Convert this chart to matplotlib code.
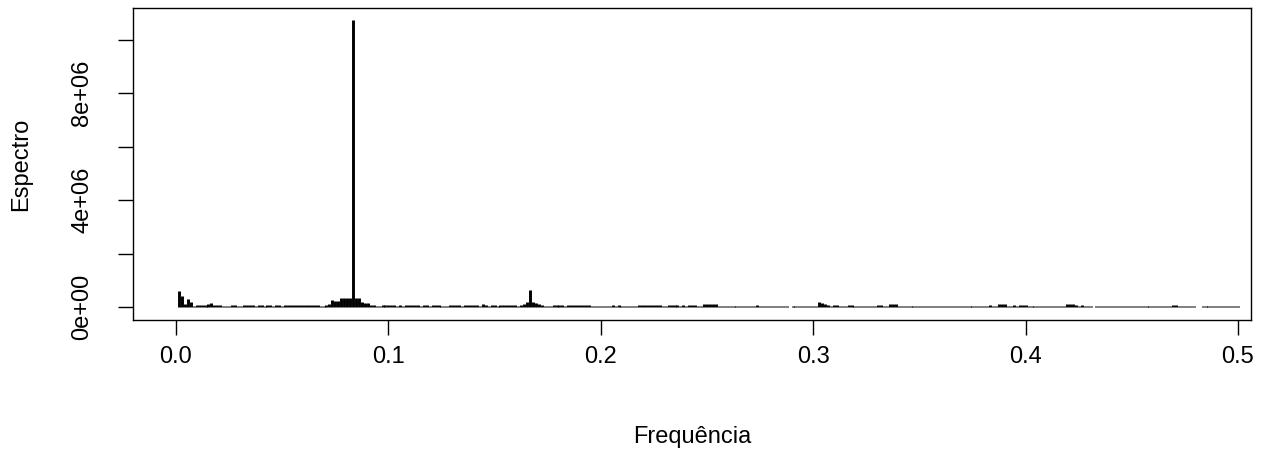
import matplotlib
matplotlib.use("Agg")
import matplotlib.pyplot as plt
import numpy as np

plt.rcParams.update({'font.family': ['Liberation Sans', 'DejaVu Sans'],
                     'font.size': 17})

# periodogram ordinates, frequencies k/720 for k = 1..360 (values in thousands)
n_obs = 720
spec_k = [
    600, 420, 120, 300, 190, 20, 80, 80, 85, 85,
    100, 160, 90, 80, 75, 20, 20, 20, 70, 75,
    20, 20, 80, 85, 80, 75, 20, 70, 60, 20,
    70, 60, 20, 70, 75, 20, 75, 80, 80, 75,
    80, 85, 75, 80, 85, 80, 85, 75, 20, 20,
    70, 120, 250, 230, 240, 320, 330, 330, 340, 10730,
    330, 320, 200, 150, 160, 80, 75, 20, 20, 70,
    80, 85, 80, 75, 20, 70, 20, 80, 90, 90,
    85, 80, 20, 70, 75, 20, 70, 80, 80, 20,
    20, 20, 80, 85, 85, 80, 20, 85, 90, 90,
    85, 80, 20, 100, 90, 20, 80, 75, 20, 70,
    80, 85, 90, 90, 80, 20, 90, 130, 170, 640,
    180, 160, 120, 90, 20, 20, 20, 70, 75, 80,
    75, 20, 70, 75, 70, 80, 85, 85, 80, 75,
    20, 20, 20, 20, 20, 20, 20, 80, 20, 70,
    20, 20, 20, 20, 20, 20, 70, 75, 85, 90,
    90, 80, 70, 75, 20, 20, 70, 75, 80, 75,
    20, 70, 20, 75, 80, 75, 20, 20, 110, 120,
    120, 115, 110, 20, 20, 20, 20, 20, 20, 20,
    20, 20, 20, 20, 20, 20, 90, 20, 20, 20,
    20, 20, 20, 20, 20, 20, 20, 0, 20, 20,
    20, 20, 20, 20, 20, 20, 20, 170, 160, 120,
    90, 20, 80, 75, 20, 20, 20, 80, 75, 20,
    20, 20, 20, 20, 20, 20, 20, 75, 70, 20,
    20, 110, 120, 100, 20, 20, 20, 20, 20, 20,
    20, 20, 20, 20, 20, 20, 20, 20, 20, 20,
    20, 20, 20, 20, 20, 20, 20, 20, 20, 20,
    20, 20, 20, 20, 20, 70, 20, 20, 120, 130,
    110, 20, 20, 80, 20, 75, 80, 70, 20, 20,
    20, 20, 20, 20, 20, 20, 20, 20, 20, 20,
    20, 100, 105, 100, 90, 20, 70, 20, 20, 20,
    0, 20, 20, 20, 20, 20, 20, 20, 20, 20,
    20, 20, 20, 20, 20, 20, 20, 20, 20, 20,
    20, 20, 20, 20, 20, 20, 20, 80, 75, 20,
    20, 20, 20, 20, 20, 0, 0, 20, 20, 20,
    20, 20, 20, 20, 20, 20, 20, 20, 20, 20,
]
x_ticks = [0.0, 0.1, 0.2, 0.3, 0.4, 0.5]
y_ticks = [0, 2e6, 4e6, 6e6, 8e6, 1e7]
y_labels = ['0e+00', '', '4e+06', '', '8e+06', '']

freq = np.arange(1, len(spec_k) + 1) / n_obs
spec = np.array(spec_k) * 1e3

fig = plt.figure(figsize=(12.8, 4.54), dpi=100)
ax = fig.add_axes([133/1280, 1 - 320/454, 1118/1280, 312/454])

ax.vlines(freq, 0, spec, color='black', linewidth=2.1, capstyle='butt')

ax.set_xlim(-43/2124, 0.5 + 13/2124)
ax.set_ylim(-0.486e6, 11.18e6)

ax.set_xticks(x_ticks)
ax.set_xticklabels(['0.0', '0.1', '0.2', '0.3', '0.4', '0.5'])
ax.set_yticks(y_ticks)
ax.set_yticklabels(y_labels, rotation=90, va='center')

for s in ax.spines.values():
    s.set_linewidth(1.0)
ax.tick_params(axis='both', length=10.5, width=1.0, color='black')
ax.tick_params(axis='x', pad=8)
ax.tick_params(axis='y', pad=18)

ax.set_xlabel('Frequência')
ax.set_ylabel('Espectro')
ax.xaxis.set_label_coords(0.5, -(437 - 320) / 312)
ax.xaxis.label.set_va('center')
ax.yaxis.set_label_coords(-(133 - 21) / 1118, 0.5)
ax.yaxis.label.set_va('center')

fig.savefig('out.png', dpi=100)
